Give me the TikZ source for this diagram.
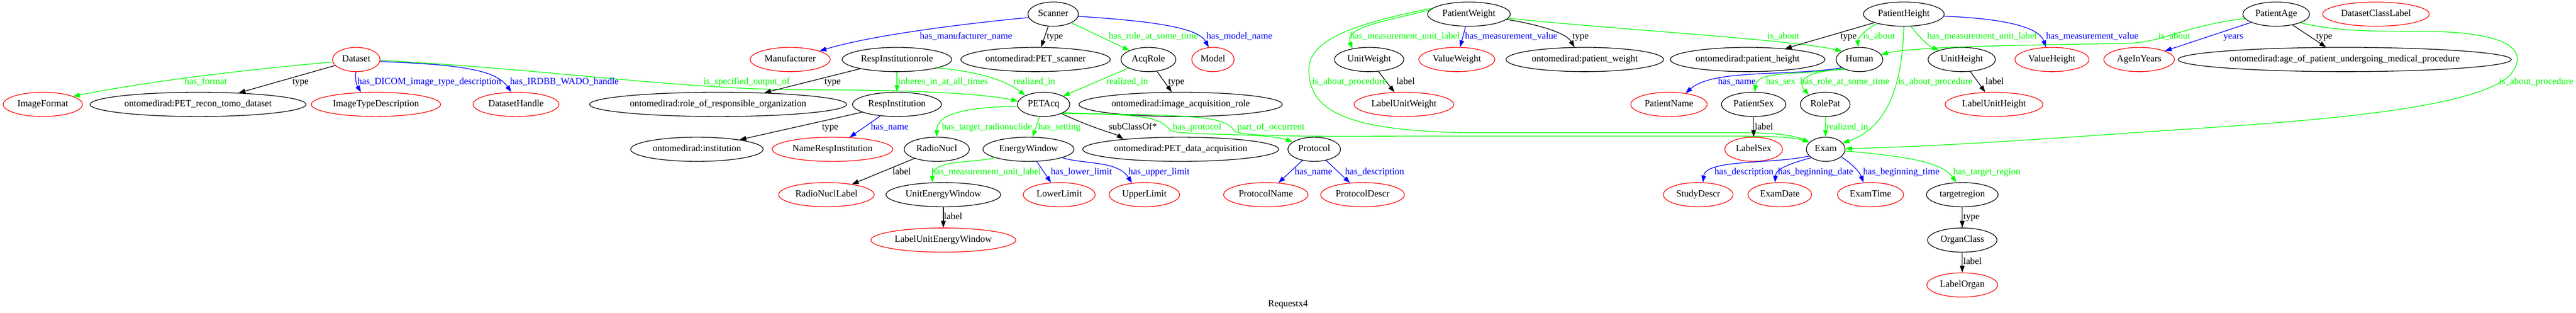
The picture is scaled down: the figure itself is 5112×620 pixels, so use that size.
\documentclass[tikz,border=0pt]{standalone}
\usepackage{fontspec}
\setmainfont{Liberation Serif}
\usetikzlibrary{shapes.geometric,arrows.meta}

\definecolor{gvred}{RGB}{255,0,0}
\definecolor{gvgreen}{RGB}{0,255,0}
\definecolor{gvblue}{RGB}{0,0,255}

\begin{document}
\begin{tikzpicture}[x=0.75pt, y=-0.75pt,
  every node/.style={font=\fontsize{14}{16}\selectfont},
  cls/.style={ellipse, draw=black, line width=1pt, inner xsep=4pt, inner ysep=2pt,
    minimum width=54pt, minimum height=36pt, text height=9.5pt, text depth=3pt},
  lit/.style={cls, draw=gvred},
  rel/.style={line width=1pt, -{Triangle[length=10pt,width=7pt]}},
  typ/.style={rel, black},
  obj/.style={rel, gvgreen},
  dat/.style={rel, gvblue},
  kl/.style={anchor=west, inner sep=0pt, text height=9.5pt, text depth=3pt},
  gl/.style={kl, text=gvgreen},
  bl/.style={kl, text=gvblue}]

  % --- canvas ---
  \fill[white] (0,0) rectangle (5112,620);

  % --- top row ---
  \node[cls] (Scanner) at (2090,28) {Scanner};
  \node[cls] (PatWeight) at (2915,28) {PatientWeight};
  \node[cls] (PatHeight) at (3778,28) {PatientHeight};
  \node[cls] (PatAge) at (4517,28) {PatientAge};
  \node[lit] (DsClassLabel) at (4715,28) {DatasetClassLabel};

  % --- second row ---
  \node[lit] (Dataset) at (707,118) {Dataset};
  \node[lit] (Manufacturer) at (1568,118) {Manufacturer};
  \node[cls] (RespInstRole) at (1780,118) {RespInstitutionrole};
  \node[cls] (omScanner) at (2055,118) {ontomedirad:PET\_scanner};
  \node[cls] (AcqRole) at (2279,118) {AcqRole};
  \node[lit] (Model) at (2407,118) {Model};
  \node[cls] (UnitWeight) at (2717,118) {UnitWeight};
  \node[lit] (ValueWeight) at (2891,118) {ValueWeight};
  \node[cls] (omWeight) at (3145,118) {ontomedirad:patient\_weight};
  \node[cls] (omHeight) at (3468,118) {ontomedirad:patient\_height};
  \node[cls] (Human) at (3690,118) {Human};
  \node[cls] (UnitHeight) at (3893,118) {UnitHeight};
  \node[lit] (ValueHeight) at (4072,118) {ValueHeight};
  \node[lit] (AgeInYears) at (4245,118) {AgeInYears};
  \node[cls] (omAge) at (4653,118) {ontomedirad:age\_of\_patient\_undergoing\_medical\_procedure};

  % --- third row ---
  \node[lit] (ImgFormat) at (85,207) {ImageFormat};
  \node[cls] (omRecon) at (393,207) {ontomedirad:PET\_recon\_tomo\_dataset};
  \node[lit] (ImgTypeDescr) at (746,207) {ImageTypeDescription};
  \node[lit] (DsHandle) at (1024,207) {DatasetHandle};
  \node[cls] (omRespRole) at (1425,207) {ontomedirad:role\_of\_responsible\_organization};
  \node[cls] (RespInst) at (1780,207) {RespInstitution};
  \node[cls] (PETAcq) at (2071,207) {PETAcq};
  \node[cls] (omAcqRole) at (2343,207) {ontomedirad:image\_acquisition\_role};
  \node[lit] (LabelUnitWeight) at (2786,207) {LabelUnitWeight};
  \node[lit] (PatName) at (3312,207) {PatientName};
  \node[cls] (PatSex) at (3480,207) {PatientSex};
  \node[cls] (RolePat) at (3622,207) {RolePat};
  \node[lit] (LabelUnitHeight) at (3957,207) {LabelUnitHeight};

  % --- fourth row ---
  \node[cls] (omInst) at (1383,296) {ontomedirad:institution};
  \node[lit] (NameRespInst) at (1652,296) {NameRespInstitution};
  \node[cls] (RadioNucl) at (1859,296) {RadioNucl};
  \node[cls] (EnergyWin) at (2041,296) {EnergyWindow};
  \node[cls] (omDataAcq) at (2343,296) {ontomedirad:PET\_data\_acquisition};
  \node[cls] (Protocol) at (2608,296) {Protocol};
  \node[lit] (LabelSex) at (3480,296) {LabelSex};
  \node[cls] (Exam) at (3623,296) {Exam};

  % --- fifth row ---
  \node[lit] (RadioNuclLabel) at (1640,386) {RadioNuclLabel};
  \node[cls] (UnitEnergyWin) at (1872,386) {UnitEnergyWindow};
  \node[lit] (LowerLimit) at (2102,386) {LowerLimit};
  \node[lit] (UpperLimit) at (2271,386) {UpperLimit};
  \node[lit] (ProtName) at (2512,386) {ProtocolName};
  \node[lit] (ProtDescr) at (2704,386) {ProtocolDescr};
  \node[lit] (StudyDescr) at (3370,386) {StudyDescr};
  \node[lit] (ExamDate) at (3532,386) {ExamDate};
  \node[lit] (ExamTime) at (3712,386) {ExamTime};
  \node[cls] (TargetRegion) at (3894,386) {targetregion};

  % --- lower rows ---
  \node[lit] (LabelUnitEnergyWin) at (1872,476) {LabelUnitEnergyWindow};
  \node[cls] (OrganClass) at (3894,476) {OrganClass};
  \node[lit] (LabelOrgan) at (3894,565) {LabelOrgan};

  % --- graph title ---
  \node (title) at (2556,604) {Requestx4};

  % --- Dataset ---
  \draw[obj] (Dataset.186) .. controls (500,137) and (300,160) .. (ImgFormat.15);
  \draw[typ] (Dataset) -- (omRecon);
  \draw[dat] (Dataset.268) .. controls (704,165) and (710,172) .. (ImgTypeDescr.141);
  \draw[dat] (Dataset.355) .. controls (920,128) and (985,140) .. (DsHandle.111);
  \draw[obj] (Dataset.358) .. controls (1100,138) and (1350,178) .. (1600,178)
    .. controls (1800,178) and (1950,185) .. (PETAcq.173);
  \node[gl] (lDsFormat) at (366,163) {has\_format};
  \node[kl] (lDsType) at (580,163) {type};
  \node[bl] (lDsDicom) at (709,163) {has\_DICOM\_image\_type\_description};
  \node[bl] (lDsHandle) at (1012,163) {has\_IRDBB\_WADO\_handle};
  \node[gl] (lDsOutput) at (1396,163) {is\_specified\_output\_of};

  % --- Scanner ---
  \draw[dat] (Scanner.188) .. controls (1900,48) and (1720,72) .. (Manufacturer.16);
  \draw[typ] (Scanner.248) -- (omScanner.66);
  \draw[obj] (Scanner) -- (AcqRole);
  \draw[dat] (Scanner.355) .. controls (2290,42) and (2378,55) .. (Model.109);
  \node[bl] (lScMan) at (1825,73) {has\_manufacturer\_name};
  \node[kl] (lScType) at (2077,73) {type};
  \node[gl] (lScRole) at (2200,73) {has\_role\_at\_some\_time};
  \node[bl] (lScModel) at (2394,73) {has\_model\_name};

  % --- responsible institution ---
  \draw[typ] (RespInstRole) -- (omRespRole);
  \draw[obj] (RespInstRole) -- (RespInst);
  \draw[obj] (RespInstRole.348) .. controls (1925,140) and (1990,155) .. (PETAcq.154);
  \draw[typ] (RespInst) -- (omInst);
  \draw[dat] (RespInst) -- (NameRespInst);
  \node[kl] (lRrType) at (1636,163) {type};
  \node[gl] (lRrInheres) at (1782,163) {inheres\_in\_at\_all\_times};
  \node[gl] (lRrRealized) at (2011,163) {realized\_in};
  \node[kl] (lRiType) at (1631,253) {type};
  \node[bl] (lRiName) at (1728,253) {has\_name};

  % --- acquisition ---
  \draw[obj] (AcqRole) -- (PETAcq);
  \draw[typ] (AcqRole) -- (omAcqRole);
  \node[gl] (lArRealized) at (2195,163) {realized\_in};
  \node[kl] (lArType) at (2318,163) {type};

  \draw[obj] (PETAcq.184) .. controls (1900,213) and (1859,230) .. (RadioNucl.north);
  \draw[obj] (PETAcq) -- (EnergyWin);
  \draw[typ] (PETAcq.333) .. controls (2170,255) and (2215,266) .. (omDataAcq.170);
  \draw[obj] (PETAcq.337) .. controls (2250,228) and (2300,228) .. (2322,258)
    .. controls (2340,270) and (2510,262) .. (Protocol.161);
  \draw[obj] (PETAcq.333) .. controls (2380,228) and (2430,230) .. (2450,260)
    .. controls (2470,272) and (2600,270) .. (2800,270) -- (3450,270)
    .. controls (3520,270) and (3560,272) .. (Exam.157);
  \node[gl] (lPaRadio) at (1869,253) {has\_target\_radionuclide};
  \node[gl] (lPaSetting) at (2060,253) {has\_setting};
  \node[kl] (lPaSub) at (2200,253) {subClassOf*};
  \node[gl] (lPaProt) at (2327,253) {has\_protocol};
  \node[gl] (lPaPart) at (2455,253) {part\_of\_occurrent};

  % --- radionuclide and energy window ---
  \draw[typ] (RadioNucl) -- (RadioNuclLabel);
  \draw[obj] (EnergyWin.194) .. controls (1930,324) and (1850,316) .. (UnitEnergyWin.132);
  \draw[dat] (EnergyWin) -- (LowerLimit);
  \draw[dat] (EnergyWin.346) .. controls (2150,326) and (2218,318) .. (UpperLimit.137);
  \draw[typ] (UnitEnergyWin) -- (LabelUnitEnergyWin);
  \node[kl] (lRnLabel) at (1771,342) {label};
  \node[gl] (lEwUnit) at (1848,342) {has\_measurement\_unit\_label};
  \node[bl] (lEwLower) at (2085,342) {has\_lower\_limit};
  \node[bl] (lEwUpper) at (2239,342) {has\_upper\_limit};
  \node[kl] (lUeLabel) at (1873,431) {label};

  % --- protocol ---
  \draw[dat] (Protocol) -- (ProtName);
  \draw[dat] (Protocol) -- (ProtDescr);
  \node[bl] (lPrName) at (2569,342) {has\_name};
  \node[bl] (lPrDescr) at (2669,342) {has\_description};

  % --- patient weight ---
  \draw[obj] (PatWeight.174) .. controls (2740,44) and (2668,55) .. (UnitWeight.147);
  \draw[dat] (PatWeight) -- (ValueWeight);
  \draw[typ] (PatWeight.352) .. controls (3060,50) and (3108,66) .. (omWeight.130);
  \draw[obj] (PatWeight.354) .. controls (3200,58) and (3550,78) .. (Human.154);
  \draw[obj] (PatWeight.171) .. controls (2640,55) and (2590,95) .. (2598,150)
    .. controls (2605,230) and (2700,258) .. (2900,263) -- (3450,263)
    .. controls (3520,263) and (3560,268) .. (Exam.157);
  \draw[typ] (UnitWeight) -- (LabelUnitWeight);
  \node[gl] (lPwUnit) at (2679,73) {has\_measurement\_unit\_label};
  \node[bl] (lPwValue) at (2907,73) {has\_measurement\_value};
  \node[kl] (lPwType) at (3120,73) {type};
  \node[gl] (lPwAbout) at (3507,73) {is\_about};
  \node[gl] (lPwProc) at (2604,163) {is\_about\_procedure};
  \node[kl] (lUwLabel) at (2771,163) {label};

  % --- patient height ---
  \draw[typ] (PatHeight) -- (omHeight);
  \draw[obj] (PatHeight.200) .. controls (3700,58) and (3686,78) .. (Human.95);
  \draw[obj] (PatHeight.300) .. controls (3810,75) and (3828,92) .. (UnitHeight.158);
  \draw[dat] (PatHeight.357) .. controls (3960,36) and (4045,50) .. (ValueHeight.116);
  \draw[obj] (PatHeight.south) .. controls (3775,180) and (3740,255) .. (Exam.20);
  \draw[typ] (UnitHeight) -- (LabelUnitHeight);
  \node[kl] (lPhType) at (3652,73) {type};
  \node[gl] (lPhAbout) at (3697,73) {is\_about};
  \node[gl] (lPhUnit) at (3824,73) {has\_measurement\_unit\_label};
  \node[bl] (lPhValue) at (4060,73) {has\_measurement\_value};
  \node[gl] (lPhProc) at (3767,163) {is\_about\_procedure};
  \node[kl] (lUhLabel) at (3940,163) {label};

  % --- patient age ---
  \draw[obj] (PatAge.188) .. controls (4330,52) and (4295,84) .. (4220,86)
    .. controls (4000,90) and (3800,92) .. (Human.13);
  \draw[dat] (PatAge) -- (AgeInYears);
  \draw[typ] (PatAge) -- (omAge);
  \draw[obj] (PatAge.340) .. controls (4640,62) and (4700,62) .. (4800,62)
    .. controls (5005,62) and (5015,110) .. (4980,150)
    .. controls (4900,225) and (4500,245) .. (4250,262)
    .. controls (4000,280) and (3800,292) .. (Exam.2);
  \node[gl] (lPaAbout) at (4283,73) {is\_about};
  \node[bl] (lPaYears) at (4412,73) {years};
  \node[kl] (lPaType) at (4596,73) {type};
  \node[gl] (lPaProc) at (4959,163) {is\_about\_procedure};

  % --- human ---
  \draw[dat] (Human.205) .. controls (3550,152) and (3400,136) .. (PatName.34);
  \draw[obj] (Human.210) .. controls (3560,150) and (3488,140) .. (PatSex.85);
  \draw[obj] (Human.215) .. controls (3585,140) and (3565,160) .. (RolePat.150);
  \draw[typ] (PatSex) -- (LabelSex);
  \draw[obj] (RolePat) -- (Exam);
  \node[bl] (lHuName) at (3409,163) {has\_name};
  \node[gl] (lHuSex) at (3504,163) {has\_sex};
  \node[gl] (lHuRole) at (3572,163) {has\_role\_at\_some\_time};
  \node[kl] (lPsLabel) at (3482,253) {label};
  \node[gl] (lRpRealized) at (3624,253) {realized\_in};

  % --- exam ---
  \draw[dat] (Exam.202) .. controls (3520,326) and (3385,315) .. (StudyDescr.69);
  \draw[dat] (Exam.210) .. controls (3550,325) and (3524,335) .. (ExamDate.111);
  \draw[dat] (Exam.334) .. controls (3675,325) and (3690,340) .. (ExamTime.120);
  \draw[obj] (Exam.355) .. controls (3780,310) and (3852,320) .. (TargetRegion.115);
  \draw[typ] (TargetRegion) -- (OrganClass);
  \draw[typ] (OrganClass) -- (LabelOrgan);
  \node[bl] (lExDescr) at (3402,342) {has\_description};
  \node[bl] (lExDate) at (3528,342) {has\_beginning\_date};
  \node[bl] (lExTime) at (3697,342) {has\_beginning\_time};
  \node[gl] (lExRegion) at (3876,342) {has\_target\_region};
  \node[kl] (lTrType) at (3896,431) {type};
  \node[kl] (lOcLabel) at (3896,520) {label};

\end{tikzpicture}
\end{document}
